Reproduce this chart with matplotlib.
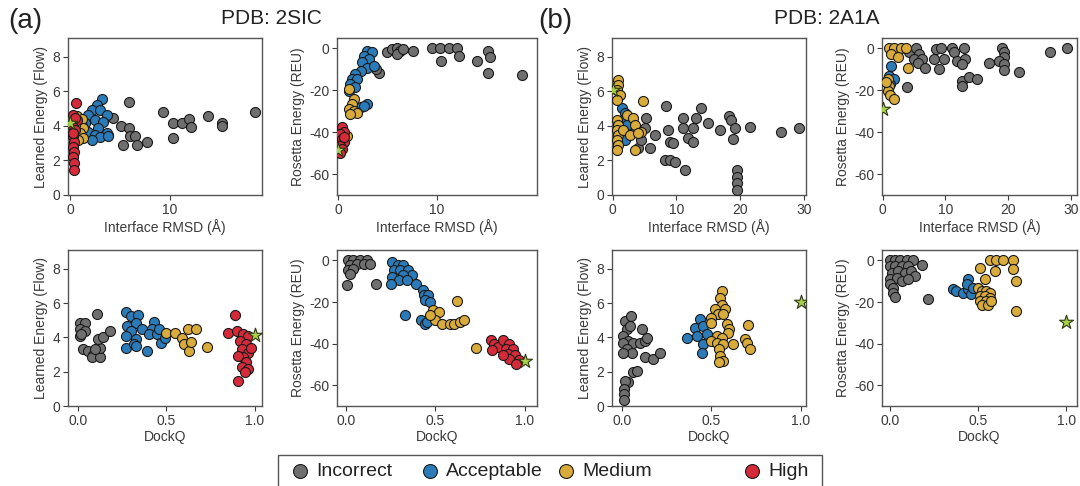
import matplotlib
matplotlib.use("Agg")
import matplotlib.pyplot as plt
from matplotlib.lines import Line2D
from matplotlib.patches import Rectangle

plt.rcParams['font.family'] = ['Liberation Sans', 'DejaVu Sans']
plt.rcParams['axes.unicode_minus'] = False

CLASSES = ["Incorrect", "Acceptable", "Medium", "High"]
COLORS = {"Incorrect": "#6f6f6f", "Acceptable": "#2c7bb9", "Medium": "#d8ab3a", "High": "#d42a3a"}
STAR_FACE = "#a6d14a"

# ---------------- 2SIC: Interface RMSD vs Learned energy ----------------
sic_rmsd_flow_incorrect = [(4.3,4.46),(5.1,4.0),(5.9,5.37),(5.9,3.9),(6.0,3.4),(5.3,2.87),(6.5,3.4),(6.7,2.87),(7.7,3.1),(9.3,4.8),(10.3,4.2),(10.3,3.3),(11.2,4.2),(11.9,4.4),(12.1,3.97),(13.8,4.6),(15.2,4.17),(15.2,4.0),(18.5,4.8),(3.8,3.5)]
sic_rmsd_flow_acceptable = [(3.2,5.56),(2.7,5.2),(2.2,4.9),(3.0,4.9),(1.8,4.65),(3.7,4.65),(2.5,4.36),(3.3,4.26),(1.5,4.17),(2.8,3.88),(1.8,3.68),(3.7,3.58),(2.5,3.49),(3.0,3.35),(2.2,3.2),(3.8,3.4),(1.2,4.0)]
sic_rmsd_flow_medium = [(0.7,4.55),(1.2,4.4),(1.3,3.88),(1.0,3.6),(1.3,3.3),(0.5,4.07),(0.8,3.2)]
sic_rmsd_flow_high = [(0.6,5.33),(0.3,4.65),(0.7,4.36),(0.2,4.07),(0.5,3.78),(0.3,3.4),(0.4,3.1),(0.3,2.8),(0.4,2.5),(0.3,2.2),(0.4,1.84),(0.4,1.45),(0.3,3.6),(0.5,4.46)]
sic_rmsd_flow_native = (0.0, 4.15)

# ---------------- 2SIC: Interface RMSD vs Rosetta energy ----------------
sic_rmsd_ros_incorrect = [(4.95,-1.9),(5.45,-0.3),(6.0,0),(6.3,-1.1),(6.0,-2.7),(6.6,-0.3),(7.6,-1.4),(9.5,0),(10.3,0),(11.2,0),(12.0,0),(10.4,-5.9),(12.2,-3.5),(14.0,-5.9),(15.2,-1.1),(15.4,-4.3),(15.2,-11.5),(18.6,-12.7),(4.1,-11.5),(3.8,-9.9)]
sic_rmsd_ros_acceptable = [(2.9,-1.1),(3.4,-1.9),(2.6,-3.5),(3.1,-5.1),(2.4,-6.7),(2.9,-9.1),(2.3,-10.7),(1.75,-12.3),(1.4,-14.6),(1.9,-14.6),(1.25,-17.0),(1.75,-18.6),(1.1,-20.2),(2.9,-26.6),(2.3,-28.2),(2.6,-27.4),(3.6,-8.3)]
sic_rmsd_ros_medium = [(1.1,-19.4),(1.6,-24.2),(1.4,-26.6),(1.1,-29.0),(1.6,-29.8),(1.9,-30.6),(1.25,-31.4),(0.9,-41.7),(0.25,-48.9)]
sic_rmsd_ros_high = [(0.4,-37.7),(0.6,-40.1),(0.25,-40.9),(0.4,-43.3),(0.6,-44.9),(0.25,-46.5),(0.4,-48.1),(0.2,-49.7),(0.6,-42.5)]
sic_rmsd_ros_native = (0.0, -48.5)

# ---------------- 2SIC: DockQ vs Learned energy ----------------
sic_dockq_flow_incorrect = [(0.01,4.82),(0.04,4.82),(0.013,4.47),(0.04,4.37),(0.01,4.08),(0.107,5.38),(0.03,3.31),(0.06,3.2),(0.088,3.0),(0.08,2.83),(0.126,2.83),(0.126,3.41),(0.1,3.31),(0.117,3.9),(0.145,4.0),(0.18,4.37),(0.02,4.18)]
sic_dockq_flow_acceptable = [(0.27,5.47),(0.3,5.24),(0.34,5.28),(0.28,4.66),(0.33,4.86),(0.3,4.37),(0.36,4.47),(0.43,4.9),(0.42,4.47),(0.40,4.18),(0.445,4.18),(0.27,4.08),(0.33,3.9),(0.27,3.41),(0.32,3.6),(0.39,3.22),(0.47,3.7),(0.49,3.99),(0.46,4.47),(0.33,3.5)]
sic_dockq_flow_medium = [(0.50,4.28),(0.55,4.28),(0.62,4.47),(0.67,4.47),(0.59,3.99),(0.6,3.6),(0.63,3.22),(0.73,3.47),(0.64,3.74)]
sic_dockq_flow_high = [(0.887,5.3),(0.85,4.28),(0.9,4.37),(0.93,4.18),(0.96,4.08),(0.915,3.8),(0.95,3.6),(0.925,3.31),(0.96,3.12),(0.935,2.83),(0.95,2.54),(0.925,2.25),(0.96,2.16),(0.906,1.48),(0.945,1.97),(0.906,2.93),(0.98,3.41)]
sic_dockq_flow_native = (1.0, 4.15)

# ---------------- 2SIC: DockQ vs Rosetta energy ----------------
sic_dockq_ros_incorrect = [(0.013,0),(0.04,0),(0.08,0),(0.12,0),(0.02,-2.4),(0.06,-1.6),(0.1,-1.6),(0.135,-1.6),(0.013,-4.8),(0.04,-4.0),(0.008,-12),(0.17,-11.2),(0.02,-6.4)]
sic_dockq_ros_acceptable = [(0.26,-0.8),(0.29,-2.4),(0.32,-2.4),(0.27,-4.8),(0.3,-4.8),(0.35,-4.8),(0.37,-7.2),(0.26,-8),(0.32,-7.2),(0.295,-9.6),(0.34,-9.6),(0.39,-11.2),(0.25,-11.2),(0.43,-14.4),(0.436,-16.8),(0.46,-16.8),(0.445,-19.2),(0.47,-20),(0.33,-26.4),(0.42,-28.8),(0.44,-30.4),(0.455,-29.6)]
sic_dockq_ros_medium = [(0.49,-24),(0.52,-24.8),(0.62,-19.7),(0.5,-28.8),(0.54,-30.4),(0.58,-30.4),(0.605,-30.4),(0.64,-29.6),(0.66,-28.8),(0.73,-41.9),(0.47,-26.4)]
sic_dockq_ros_high = [(0.81,-38.4),(0.83,-40),(0.85,-41.6),(0.82,-43.2),(0.88,-38.4),(0.915,-40),(0.897,-42.4),(0.935,-42.4),(0.906,-44.8),(0.944,-45.6),(0.915,-47.2),(0.97,-48),(0.953,-49.6),(0.878,-45.6)]
sic_dockq_ros_native = (1.0, -48.5)

# ---------------- 2A1A: Interface RMSD vs Learned energy ----------------
a1a_rmsd_flow_incorrect = [(8.4,5.17),(8.7,3.78),(8.2,2.03),(9.0,2.03),(9.7,1.94),(9.0,3.1),(9.5,3.0),(11.0,4.46),(11.0,3.88),(11.8,3.3),(12.6,3.1),(11.3,1.45),(13.1,4.46),(12.6,3.88),(13.9,5.04),(14.9,4.17),(16.8,3.78),(18.3,4.55),(18.6,4.36),(19.1,3.88),(18.9,3.24),(21.5,3.97),(19.5,1.45),(19.5,1.07),(19.5,0.68),(19.5,0.29),(26.4,3.64),(29.2,3.88),(5.3,4.46),(5.1,3.88),(6.6,3.49),(5.8,2.71),(4.0,2.7),(4.5,3.2),(3.5,3.68)]
a1a_rmsd_flow_acceptable = [(1.4,5.04),(2.0,4.75),(1.7,4.36),(2.2,4.07),(1.4,3.68),(2.0,3.2)]
a1a_rmsd_flow_medium = [(0.9,6.69),(0.9,6.4),(0.7,6.1),(1.1,5.8),(0.7,5.5),(0.7,4.36),(0.9,4.07),(0.7,3.78),(0.9,3.49),(0.7,3.2),(0.9,2.9),(0.7,2.6),(1.7,3.78),(2.2,4.65),(3.2,4.46),(3.5,4.07),(2.7,3.49),(4.5,3.68),(4.8,5.43),(3.5,2.6),(4.0,3.59)]
a1a_rmsd_flow_high = []
a1a_rmsd_flow_native = (0.0, 6.1)

# ---------------- 2A1A: Interface RMSD vs Rosetta energy ----------------
a1a_rmsd_ros_incorrect = [(4.2,-1.9),(5.3,0),(5.8,-2.7),(5.0,-4.8),(6.3,-5.1),(5.6,-7.0),(6.7,-9.1),(8.5,-0.3),(9.3,0),(8.2,-5.1),(9.0,-9.9),(9.8,-5.1),(11.1,0),(11.4,-1.9),(11.9,-5.9),(13.0,0),(13.2,-5.1),(12.7,-7.5),(12.7,-15.4),(12.7,-17.8),(13.8,-13.8),(15.0,-14.6),(16.9,-7.0),(19.0,0),(19.3,-1.9),(19.3,-4.3),(18.5,-5.9),(19.3,-7.5),(19.3,-10.2),(21.7,-11.1),(26.7,-1.9),(29.4,0),(3.9,-18.6)]
a1a_rmsd_ros_acceptable = [(1.4,-8.3),(1.06,-13.1),(1.85,-14.6),(1.2,-17.0)]
a1a_rmsd_ros_medium = [(1.06,0),(1.85,0),(2.9,0),(3.7,0),(1.3,-2.7),(2.4,-4.3),(4.0,-9.1),(0.8,-14.6),(1.06,-17.8),(0.8,-20.2),(1.2,-22.3),(1.85,-24.2),(0.5,-16.2)]
a1a_rmsd_ros_high = []
a1a_rmsd_ros_native = (0.0, -29.0)

# ---------------- 2A1A: DockQ vs Learned energy ----------------
a1a_dockq_flow_incorrect = [(0.015,4.95),(0.05,5.24),(0.024,4.47),(0.043,4.66),(0.006,4.08),(0.034,3.8),(0.006,3.7),(0.062,3.7),(0.024,3.3),(0.052,3.12),(0.006,3.12),(0.1,3.7),(0.108,4.47),(0.127,3.8),(0.136,3.99),(0.127,2.83),(0.17,2.74),(0.21,3.12),(0.062,1.97),(0.08,2.06),(0.034,1.39),(0.015,1.48),(0.01,1.0),(0.01,0.71),(0.01,0.37)]
a1a_dockq_flow_acceptable = [(0.36,3.99),(0.41,4.57),(0.435,5.05),(0.454,4.66),(0.417,4.08),(0.454,3.6),(0.445,3.12),(0.473,4.18)]
a1a_dockq_flow_medium = [(0.557,6.69),(0.548,6.3),(0.557,5.92),(0.52,5.63),(0.538,5.34),(0.5,5.14),(0.5,4.86),(0.585,4.76),(0.6,4.47),(0.594,4.28),(0.53,4.08),(0.557,3.99),(0.5,3.8),(0.53,3.7),(0.566,3.6),(0.54,3.31),(0.548,2.93),(0.566,2.64),(0.54,2.54),(0.62,3.6),(0.706,4.74),(0.688,3.89),(0.697,3.7),(0.716,3.31),(0.576,5.63),(0.566,5.34)]
a1a_dockq_flow_high = []
a1a_dockq_flow_native = (1.0, 6.07)

# ---------------- 2A1A: DockQ vs Rosetta energy ----------------
a1a_dockq_ros_incorrect = [(0,0),(0.03,0),(0.057,0),(0.094,0),(0.13,0),(0,-2.7),(0.03,-2.7),(0.066,-2.7),(0.1,-2.7),(0.18,-2.4),(0.01,-5.9),(0.047,-5.1),(0.085,-5.9),(0.12,-5.1),(0.14,-7.5),(0,-9.1),(0.038,-8.3),(0.066,-9.9),(0.1,-9.1),(0,-11.5),(0.02,-13.1),(0.02,-15.5),(0.03,-17.6),(0.217,-18.7)]
a1a_dockq_ros_acceptable = [(0.36,-13.9),(0.377,-14.7),(0.415,-15.5),(0.443,-13.9),(0.443,-8.8),(0.434,-11.5),(0.46,-16.3),(0.47,-13.1)]
a1a_dockq_ros_medium = [(0.51,-3.5),(0.538,-9.1),(0.566,0),(0.6,0),(0.64,0),(0.594,-5.1),(0.7,0),(0.7,-4.3),(0.717,-9.9),(0.717,-24.3),(0.5,-13.1),(0.52,-14.7),(0.547,-14.7),(0.566,-15.5),(0.51,-17.1),(0.538,-17.1),(0.566,-17.9),(0.51,-19.5),(0.547,-19.5),(0.52,-21.6),(0.557,-21.6),(0.575,-19.5)]
a1a_dockq_ros_high = []
a1a_dockq_ros_native = (1.0, -29.6)

FLOW_TICKS = [0, 2, 4, 6, 8]
ROS_TICKS = [0, -20, -40, -60]
RMSD_TICKS_SIC = [0, 10]
RMSD_TICKS_A1A = [0, 10, 20, 30]
DOCKQ_TICKS = [0.0, 0.5, 1.0]
DOCKQ_TICKLABELS = ["0.0", "0.5", "1.0"]

fig = plt.figure(figsize=(10.8, 4.86), dpi=100)
W, H = 1080.0, 486.0

def make_ax(x0, x1, y0, y1):
    return fig.add_axes([x0 / W, 1 - y1 / H, (x1 - x0) / W, (y1 - y0) / H])

panels = [
    (68, 262, 38, 195, [sic_rmsd_flow_incorrect, sic_rmsd_flow_acceptable, sic_rmsd_flow_medium, sic_rmsd_flow_high], sic_rmsd_flow_native,
     (-0.2, 19.2), (0, 9.1), RMSD_TICKS_SIC, None, "Interface RMSD (Å)", "Learned Energy (Flow)", FLOW_TICKS),
    (337, 537, 38, 195, [sic_rmsd_ros_incorrect, sic_rmsd_ros_acceptable, sic_rmsd_ros_medium, sic_rmsd_ros_high], sic_rmsd_ros_native,
     (-0.1, 20.1), (-70, 5), RMSD_TICKS_SIC, None, "Interface RMSD (Å)", "Rosetta Energy (REU)", ROS_TICKS),
    (612, 806, 38, 195, [a1a_rmsd_flow_incorrect, a1a_rmsd_flow_acceptable, a1a_rmsd_flow_medium, a1a_rmsd_flow_high], a1a_rmsd_flow_native,
     (-0.1, 30.3), (0, 9.1), RMSD_TICKS_A1A, None, "Interface RMSD (Å)", "Learned Energy (Flow)", FLOW_TICKS),
    (882, 1077, 38, 195, [a1a_rmsd_ros_incorrect, a1a_rmsd_ros_acceptable, a1a_rmsd_ros_medium, a1a_rmsd_ros_high], a1a_rmsd_ros_native,
     (-0.1, 31.0), (-70, 5), RMSD_TICKS_A1A, None, "Interface RMSD (Å)", "Rosetta Energy (REU)", ROS_TICKS),
    (68, 262, 250, 406, [sic_dockq_flow_incorrect, sic_dockq_flow_acceptable, sic_dockq_flow_medium, sic_dockq_flow_high], sic_dockq_flow_native,
     (-0.055, 1.04), (0, 9.1), DOCKQ_TICKS, DOCKQ_TICKLABELS, "DockQ", "Learned Energy (Flow)", FLOW_TICKS),
    (337, 537, 250, 406, [sic_dockq_ros_incorrect, sic_dockq_ros_acceptable, sic_dockq_ros_medium, sic_dockq_ros_high], sic_dockq_ros_native,
     (-0.05, 1.07), (-70, 5), DOCKQ_TICKS, DOCKQ_TICKLABELS, "DockQ", "Rosetta Energy (REU)", ROS_TICKS),
    (612, 806, 250, 406, [a1a_dockq_flow_incorrect, a1a_dockq_flow_acceptable, a1a_dockq_flow_medium, a1a_dockq_flow_high], a1a_dockq_flow_native,
     (-0.058, 1.03), (0, 9.1), DOCKQ_TICKS, DOCKQ_TICKLABELS, "DockQ", "Learned Energy (Flow)", FLOW_TICKS),
    (882, 1077, 250, 406, [a1a_dockq_ros_incorrect, a1a_dockq_ros_acceptable, a1a_dockq_ros_medium, a1a_dockq_ros_high], a1a_dockq_ros_native,
     (-0.045, 1.06), (-70, 5), DOCKQ_TICKS, DOCKQ_TICKLABELS, "DockQ", "Rosetta Energy (REU)", ROS_TICKS),
]

TEXT_COL = "#3a3a3a"
SPINE_COL = "#555555"

for (x0, x1, y0, y1, sets, native, xlim, ylim, xticks, xticklabels, xlabel, ylabel, yticks) in panels:
    ax = make_ax(x0, x1, y0, y1)
    for cls, pts in zip(CLASSES, sets):
        if not pts:
            continue
        xs = [p[0] for p in pts]
        ys = [p[1] for p in pts]
        ax.scatter(xs, ys, s=52, c=COLORS[cls], edgecolors="#1a1a1a", linewidths=0.8, zorder=3)
    ax.scatter([native[0]], [native[1]], marker="*", s=110, c=STAR_FACE, edgecolors="#2e3512",
               linewidths=0.8, zorder=4)
    ax.set_xlim(*xlim)
    ax.set_ylim(*ylim)
    ax.set_xticks(xticks)
    if xticklabels is not None:
        ax.set_xticklabels(xticklabels)
    ax.set_yticks(yticks)
    ax.set_xlabel(xlabel, fontsize=10, color=TEXT_COL, labelpad=2)
    ax.set_ylabel(ylabel, fontsize=10, color=TEXT_COL, labelpad=3)
    ax.tick_params(axis="both", labelsize=10, colors=TEXT_COL, length=3.5, width=0.8, pad=2, direction="out")
    for sp in ax.spines.values():
        sp.set_color(SPINE_COL)
        sp.set_linewidth(1.0)

# Titles and panel letters
fig.text(271 / W, 1 - 19 / H, "PDB: 2SIC", fontsize=15, ha="center", va="center", color="#222222")
fig.text(827 / W, 1 - 19 / H, "PDB: 2A1A", fontsize=15, ha="center", va="center", color="#222222")
fig.text(8 / W, 1 - 21 / H, "(a)", fontsize=20, ha="left", va="center", color="#222222")
fig.text(538 / W, 1 - 21 / H, "(b)", fontsize=20, ha="left", va="center", color="#222222")

# Legend (drawn manually to reproduce the uneven entry spacing of the original)
fig.patches.append(Rectangle((278 / W, -10 / H), 544 / W, (486 - 455 + 10) / H, transform=fig.transFigure,
                             facecolor="white", edgecolor="#555555", linewidth=1.0, zorder=1))
legend_marker_x = [300, 430, 566, 752]
legend_y = 1 - 471 / H
for cls, mx in zip(CLASSES, legend_marker_x):
    fig.add_artist(Line2D([mx / W], [legend_y], transform=fig.transFigure, marker="o", linestyle="none",
                          markersize=10, markerfacecolor=COLORS[cls], markeredgecolor="#1a1a1a",
                          markeredgewidth=0.8, zorder=2))
    fig.text((mx + 16) / W, legend_y, cls, fontsize=14, ha="left", va="center", color="#222222", zorder=2)

fig.savefig("out.png", dpi=100)
